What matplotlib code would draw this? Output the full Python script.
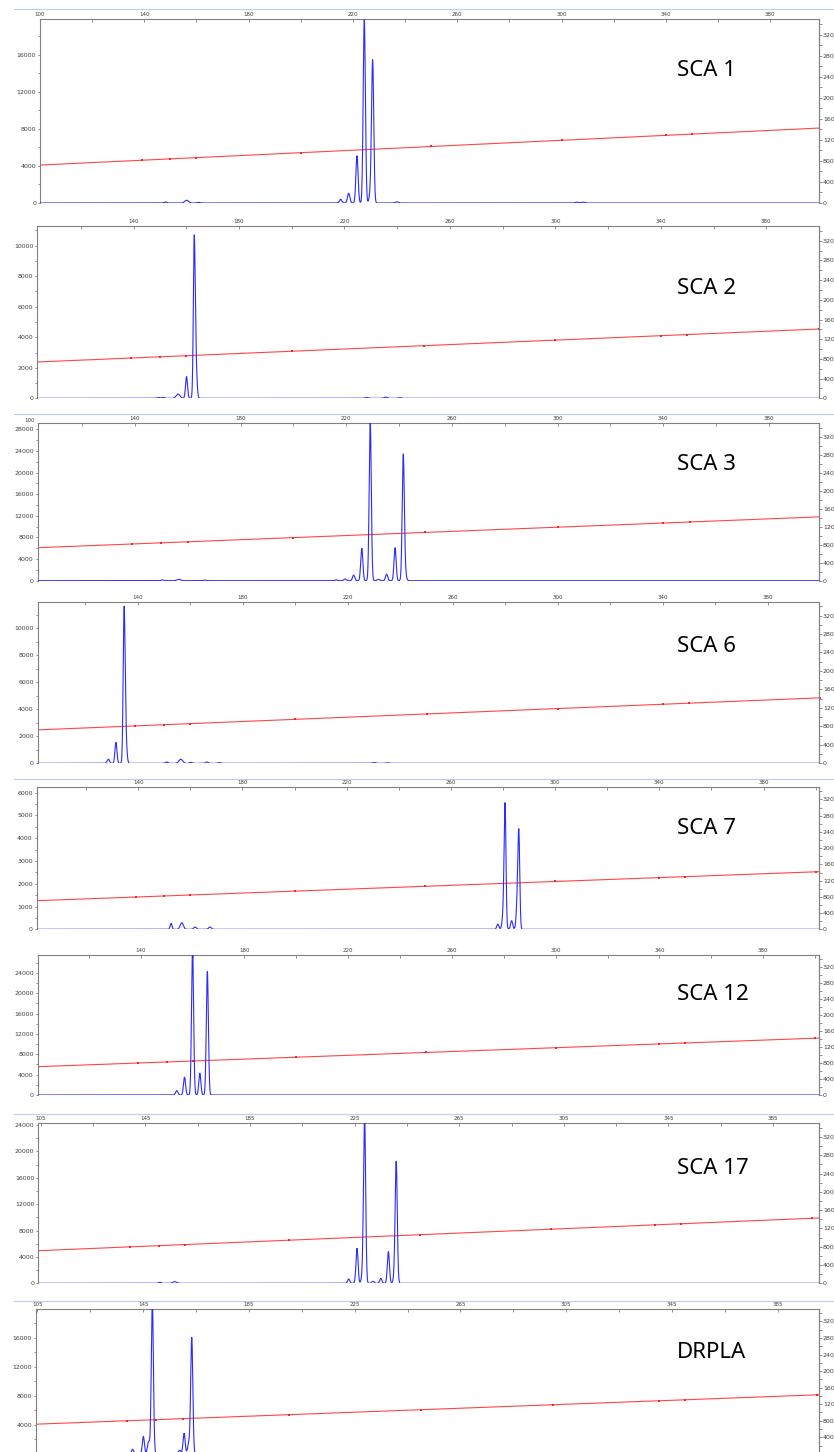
import numpy as np
import matplotlib.pyplot as plt
from matplotlib.ticker import MultipleLocator
from matplotlib.transforms import blended_transform_factory
from matplotlib.lines import Line2D

W, H = 834, 1452

names = ['SCA 1', 'SCA 2', 'SCA 3', 'SCA 6', 'SCA 7', 'SCA 12', 'SCA 17', 'DRPLA']

# size window (bp) shown in each panel
x_ranges = [(100, 398.7), (103.5, 400), (103.2, 399), (101.9, 399.5),
            (101, 401.3), (100.3, 401.5), (104, 402.6), (104.5, 400.6)]
first_tick = [100, 100, 100, 100, 100, 100, 105, 105]
y_tops = [19890, 11290, 29100, 11950, 6236, 27540, 24250, 19990]
y_steps = [4000, 2000, 4000, 2000, 1000, 4000, 4000, 4000]

# size standard (red) - height at the left and right ends of each panel
ladder_ends = [(4100, 8100), (2380, 4540), (6100, 11800), (2470, 4840),
               (1256, 2530), (5570, 11200), (4940, 9900), (4100, 8160)]
ladder_sizes = [139, 150, 160, 200, 250, 300, 340, 350, 400]

# blue trace peaks: (size bp, height RFU, width bp)
sca1_peaks = [(148.2, 100, 0.5), (156.2, 300, 0.7), (160.8, 70, 0.5),
              (215.3, 400, 0.45), (218.35, 1050, 0.45), (221.55, 5100, 0.42),
              (224.35, 19800, 0.42), (226.8, 1200, 0.5), (227.55, 15100, 0.42),
              (236.8, 130, 0.6), (305.8, 90, 0.6), (308.3, 90, 0.6)]
sca2_peaks = [(149.5, 50, 0.5), (151.3, 60, 0.5), (156.9, 280, 0.7),
              (160.1, 1420, 0.38), (163.0, 9000, 0.33), (163.5, 3000, 0.45),
              (228.4, 50, 0.6), (235.6, 80, 0.6), (241.0, 40, 0.6)]
sca3_peaks = [(150.4, 150, 0.5), (156.6, 250, 0.7), (166.5, 100, 0.6),
              (216.2, 150, 0.5), (219.6, 300, 0.5), (222.8, 1050, 0.42),
              (225.9, 6000, 0.4), (229.1, 29500, 0.4), (232.2, 250, 0.5),
              (235.3, 1200, 0.42), (238.5, 6100, 0.4), (241.6, 22700, 0.4),
              (242.2, 1500, 0.5)]
sca6_peaks = [(128.8, 300, 0.45), (131.7, 1550, 0.38), (134.8, 10200, 0.35),
              (135.3, 2500, 0.45), (151.0, 100, 0.5), (156.4, 300, 0.7),
              (160.2, 70, 0.5), (166.3, 100, 0.5), (171.0, 50, 0.5),
              (230.0, 50, 0.6), (235.0, 40, 0.6)]
sca7_peaks = [(152.6, 260, 0.35), (156.7, 290, 0.6), (161.8, 100, 0.5),
              (167.5, 100, 0.5), (278.0, 230, 0.4), (280.3, 900, 0.5),
              (280.8, 5000, 0.35), (283.3, 380, 0.4), (285.6, 1400, 0.45),
              (286.1, 3600, 0.35)]
sca12_peaks = [(153.9, 850, 0.45), (156.9, 3500, 0.4), (160.0, 28500, 0.4),
               (162.8, 4300, 0.4), (165.7, 24300, 0.4)]
sca17_peaks = [(150.5, 150, 0.5), (156.2, 250, 0.7), (222.7, 650, 0.42),
               (225.9, 5300, 0.4), (228.1, 1500, 0.45), (228.8, 25000, 0.4),
               (232.0, 300, 0.5), (235.0, 750, 0.42), (237.9, 4800, 0.4),
               (240.3, 1200, 0.45), (240.9, 18000, 0.4)]
drpla_peaks = [(141.0, 640, 0.42), (145.1, 2400, 0.4), (147.1, 1700, 0.45),
               (148.5, 21000, 0.4), (158.8, 500, 0.45), (160.5, 2850, 0.4),
               (162.3, 1500, 0.45), (163.4, 16000, 0.4)]
all_peaks = [sca1_peaks, sca2_peaks, sca3_peaks, sca6_peaks,
             sca7_peaks, sca12_peaks, sca17_peaks, drpla_peaks]

# layout in pixels: left edge, top edge, zero line, separator line, label centre
layout = [(40, 19, 203, 9, 71), (37.3, 226, 398.3, None, 288),
          (37.7, 423.3, 580.7, 414.3, 465), (37.7, 601.7, 763.3, None, 647),
          (36.7, 787.3, 929.3, 779.3, 828), (37.7, 955, 1095, None, 995),
          (38.3, 1123.3, 1283.3, 1114.3, 1168), (36, 1309, 1453.9, 1301, 1353)]
RIGHT = 819

fig = plt.figure(figsize=(W / 100, H / 100), dpi=100)
spine_col = '#808080'
text_col = '#404040'

for i, name in enumerate(names):
    left, top, zero, sep, label_y = layout[i]
    ax = fig.add_axes([left / W, 1 - zero / H, (RIGHT - left) / W, (zero - top) / H])
    x0, x1 = x_ranges[i]

    # blue trace
    x = np.linspace(x0, x1, 9000)
    y = np.zeros_like(x)
    for pos, h, s in all_peaks[i]:
        y += h * np.exp(-0.5 * ((x - pos) / s) ** 2)
    ax.plot(x, y, color='#2b2bff', lw=0.8, zorder=3)

    # size standard line with markers
    e0, e1 = ladder_ends[i]
    ax.plot([x0, x1], [e0, e1], color='#ff4545', lw=0.8, zorder=2)
    ls = [s for s in ladder_sizes if x0 <= s <= x1 + 0.5]
    ax.plot(ls, np.interp(ls, [x0, x1], [e0, e1]), 's', color='#ff2020',
            ms=1.6, mew=0, zorder=2, clip_on=False)

    ax.xaxis.tick_top()
    ax.set_xticks(np.arange(first_tick[i], 420, 40))
    ax.xaxis.set_minor_locator(MultipleLocator(40, offset=first_tick[i] + 20))
    ax.set_xlim(x0, x1)
    ax.set_ylim(0, y_tops[i])
    ax.yaxis.set_major_locator(MultipleLocator(y_steps[i]))
    ax.yaxis.set_minor_locator(MultipleLocator(y_steps[i] / 2))
    ax.tick_params(axis='x', which='both', direction='in', length=2, width=0.6,
                   color=spine_col, labelsize=4, labelcolor=text_col, pad=1.5)
    ax.tick_params(axis='y', which='both', length=1.8, width=0.6,
                   color=spine_col, labelsize=4.5, labelcolor=text_col, pad=1)
    ax.yaxis.set_major_formatter(lambda v, p: f'{int(v)}')
    for side in ['top', 'left', 'right']:
        ax.spines[side].set_color(spine_col)
        ax.spines[side].set_linewidth(0.8)
    ax.spines['bottom'].set_visible(False)
    ax.patch.set_alpha(0)

    if i == 2:
        tr = blended_transform_factory(ax.transData, ax.transAxes)
        ax.text(100, 1.0, '100', transform=tr, ha='center', va='bottom',
                fontsize=4, color=text_col, clip_on=False)

    # right axis
    ax2 = ax.twinx()
    ax2.yaxis.set_minor_locator(MultipleLocator(200))
    ax2.set_yticks(np.arange(0, 3201, 400))
    ax2.set_ylim(0, 3500)
    ax2.tick_params(axis='y', which='both', length=1.8, width=0.6,
                    color=spine_col, labelsize=4.5, labelcolor=text_col, pad=1)
    for side in ['top', 'bottom', 'left']:
        ax2.spines[side].set_visible(False)
    ax2.spines['right'].set_color(spine_col)
    ax2.spines['right'].set_linewidth(0.8)

    if sep is not None:
        fig.add_artist(Line2D([14 / W, 1], [1 - sep / H] * 2, color='#b9cdf5', lw=0.8))

    fig.text(677 / W, 1 - label_y / H, name, fontsize=16, ha='left', va='center',
             family=['Noto Sans', 'DejaVu Sans'], color='black')

fig.savefig('out.png', dpi=100)
